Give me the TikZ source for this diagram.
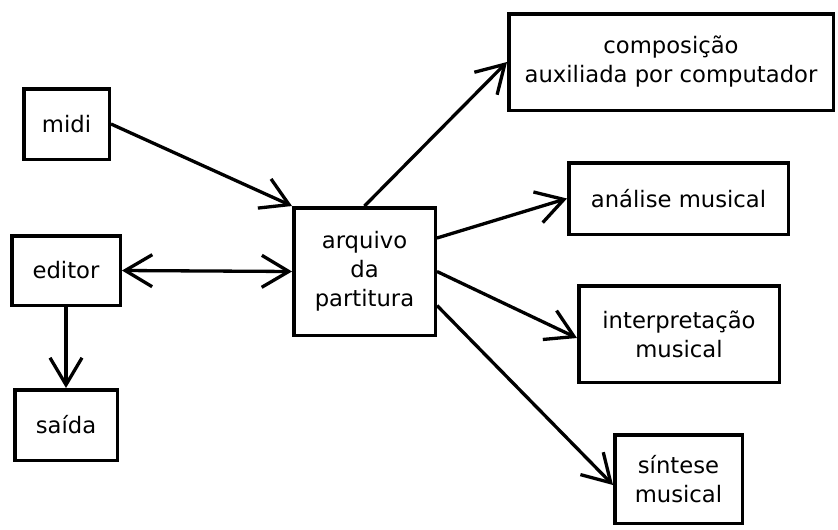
\documentclass[tikz,border=0pt]{standalone}
\usepackage{fontspec}
\setmainfont{DejaVu Sans}
\usetikzlibrary{arrows.meta}
\begin{document}
\begin{tikzpicture}[x=1pt,y=-1pt,
  box/.style={draw, line width=3.5pt, align=center, inner sep=0pt,
    font=\fontsize{22.7}{29}\selectfont},
  conn/.style={line width=3.3pt, -{Straight Barb[length=27pt,width=32pt]}},
  conn2/.style={line width=3.3pt, {Straight Barb[length=27pt,width=32pt]}-{Straight Barb[length=27pt,width=32pt]}}]
\useasboundingbox (0,0) rectangle (838,530);
\node[box, minimum width=85.5pt, minimum height=70.5pt] (midi) at (66.5,124) {midi};
\node[box, minimum width=108.5pt, minimum height=69.5pt] (editor) at (66,270.5) {editor};
\node[box, minimum width=102.5pt, minimum height=70.5pt] (saida) at (66,425) {saída};
\node[box, minimum width=141.5pt, minimum height=127.5pt] (arq) at (364.5,271.5) {arquivo\\da\\partitura};
\node[box, minimum width=324.5pt, minimum height=96.5pt] (comp) at (671,62) {composição\\auxiliada por computador};
\node[box, minimum width=219.5pt, minimum height=71.5pt] (anal) at (678.5,198.5) {análise musical};
\node[box, minimum width=200.5pt, minimum height=96.5pt] (interp) at (679,334) {interpretação\\musical};
\node[box, minimum width=127.5pt, minimum height=88.5pt] (sint) at (678.5,479) {síntese\\musical};
\draw[conn] (midi.east) -- (arq.north west);
\draw[conn2] (editor.east) -- (arq.west);
\draw[conn] (editor.south) -- (saida.north);
\draw[conn] (arq.north) -- (comp.west);
\draw[conn] ([yshift=33.5pt]arq.east) -- (anal.west);
\draw[conn] (arq.east) -- ([yshift=-4pt]interp.west);
\draw[conn] ([yshift=-34pt]arq.east) -- ([yshift=-6pt]sint.west);
\end{tikzpicture}
\end{document}
